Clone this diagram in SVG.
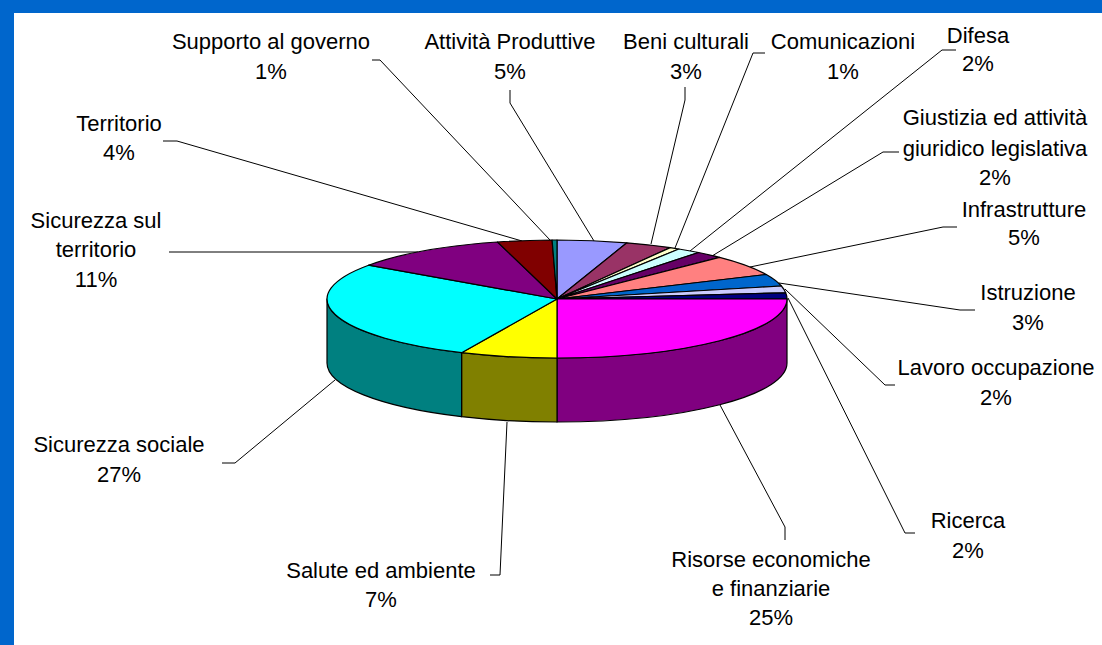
<svg xmlns="http://www.w3.org/2000/svg" width="1102" height="645" viewBox="0 0 1102 645">
<style>
.lbl{font-family:"Liberation Sans",Arial,sans-serif;font-size:22px;fill:#000;text-anchor:middle}
.ld{fill:none;stroke:#000;stroke-width:1}
.sl{stroke:#000;stroke-width:1.2;stroke-linejoin:round}
</style>
<rect x="0" y="0" width="1102" height="645" fill="#0066CC"/>
<rect x="14" y="13" width="1088" height="632" fill="#FFFFFF"/>
<g id="connectors">
<polyline class="ld" points="372,60 380,60 550,240"/>
<polyline class="ld" points="510,90 510,103 594,241"/>
<polyline class="ld" points="685,87 685,100 651,244"/>
<polyline class="ld" points="765,53 753,53 675,248"/>
<polyline class="ld" points="956,50 942,50 690,251"/>
<polyline class="ld" points="899,152 883,152 712,256"/>
<polyline class="ld" points="957,227 943,227 750,267"/>
<polyline class="ld" points="975,310 960,310 779,283"/>
<polyline class="ld" points="895,385 885,385 785,289"/>
<polyline class="ld" points="915,533 905,533 788,298"/>
<polyline class="ld" points="785,540 785,527 720,405"/>
<polyline class="ld" points="490,575 500,575 507,422"/>
<polyline class="ld" points="222,463 235,463 335,380"/>
<polyline class="ld" points="169,252 418,252"/>
<polyline class="ld" points="163,141 177,141 522,241"/>
</g>
<g id="pie">
<path class="sl" fill="#800080" d="M787,299 A230,59 0 0 1 557,358 L557,422 A230,59 0 0 0 787,363 Z"/>
<path class="sl" fill="#808000" d="M557,358 A230,59 0 0 1 461.6,352.7 L461.6,416.7 A230,59 0 0 0 557,422 Z"/>
<path class="sl" fill="#008080" d="M461.6,352.7 A230,59 0 0 1 327,299 L327,363 A230,59 0 0 0 461.6,416.7 Z"/>
<path class="sl" fill="#9999FF" d="M557,299 L557,240 A230,59 0 0 1 626.9,242.8 Z"/>
<path class="sl" fill="#993366" d="M557,299 L626.9,242.8 A230,59 0 0 1 670.3,247.6 Z"/>
<path class="sl" fill="#FFFFCC" d="M557,299 L670.3,247.6 A230,59 0 0 1 678.9,249 Z"/>
<path class="sl" fill="#CCFFFF" d="M557,299 L678.9,249 A230,59 0 0 1 698.6,252.5 Z"/>
<path class="sl" fill="#660066" d="M557,299 L698.6,252.5 A230,59 0 0 1 719.6,257.3 Z"/>
<path class="sl" fill="#FF8080" d="M557,299 L719.6,257.3 A230,59 0 0 1 766.3,274.5 Z"/>
<path class="sl" fill="#0066CC" d="M557,299 L766.3,274.5 A230,59 0 0 1 781.4,286 Z"/>
<path class="sl" fill="#CCCCFF" d="M557,299 L781.4,286 A230,59 0 0 1 785.7,292.8 Z"/>
<path class="sl" fill="#000080" d="M557,299 L785.7,292.8 A230,59 0 0 1 787,299 Z"/>
<path class="sl" fill="#FF00FF" d="M557,299 L787,299 A230,59 0 0 1 557,358 Z"/>
<path class="sl" fill="#FFFF00" d="M557,299 L557,358 A230,59 0 0 1 461.6,352.7 Z"/>
<path class="sl" fill="#00FFFF" d="M557,299 L461.6,352.7 A230,59 0 0 1 368.6,265.2 Z"/>
<path class="sl" fill="#800080" d="M557,299 L368.6,265.2 A230,59 0 0 1 497.5,242 Z"/>
<path class="sl" fill="#800000" d="M557,299 L497.5,242 A230,59 0 0 1 552.1,240 Z"/>
<path class="sl" fill="#008080" d="M557,299 L552.1,240 A230,59 0 0 1 557,240 Z"/>
</g>
<g id="label-supporto"><text class="lbl" x="271" y="49">Supporto al governo</text><text class="lbl" x="271" y="79">1%</text></g>
<g id="label-attivita"><text class="lbl" x="510" y="49">Attività Produttive</text><text class="lbl" x="510" y="79">5%</text></g>
<g id="label-beni"><text class="lbl" x="686" y="49">Beni culturali</text><text class="lbl" x="686" y="79">3%</text></g>
<g id="label-comunicazioni"><text class="lbl" x="843" y="49">Comunicazioni</text><text class="lbl" x="843" y="79">1%</text></g>
<g id="label-difesa"><text class="lbl" x="978" y="43">Difesa</text><text class="lbl" x="978" y="71">2%</text></g>
<g id="label-giustizia"><text class="lbl" x="995" y="125">Giustizia ed attività</text><text class="lbl" x="995" y="156">giuridico legislativa</text><text class="lbl" x="995" y="185">2%</text></g>
<g id="label-infrastrutture"><text class="lbl" x="1024" y="217">Infrastrutture</text><text class="lbl" x="1024" y="245">5%</text></g>
<g id="label-istruzione"><text class="lbl" x="1028" y="300">Istruzione</text><text class="lbl" x="1028" y="330">3%</text></g>
<g id="label-lavoro"><text class="lbl" x="996" y="375">Lavoro occupazione</text><text class="lbl" x="996" y="405">2%</text></g>
<g id="label-ricerca"><text class="lbl" x="968" y="528">Ricerca</text><text class="lbl" x="968" y="558">2%</text></g>
<g id="label-risorse"><text class="lbl" x="771" y="567">Risorse economiche</text><text class="lbl" x="771" y="596">e finanziarie</text><text class="lbl" x="771" y="625">25%</text></g>
<g id="label-salute"><text class="lbl" x="381" y="578">Salute ed ambiente</text><text class="lbl" x="381" y="607">7%</text></g>
<g id="label-sicsociale"><text class="lbl" x="119" y="452">Sicurezza sociale</text><text class="lbl" x="119" y="482">27%</text></g>
<g id="label-sicterritorio"><text class="lbl" x="96" y="228">Sicurezza sul</text><text class="lbl" x="96" y="257">territorio</text><text class="lbl" x="96" y="287">11%</text></g>
<g id="label-territorio"><text class="lbl" x="119" y="131">Territorio</text><text class="lbl" x="119" y="160">4%</text></g>
</svg>
